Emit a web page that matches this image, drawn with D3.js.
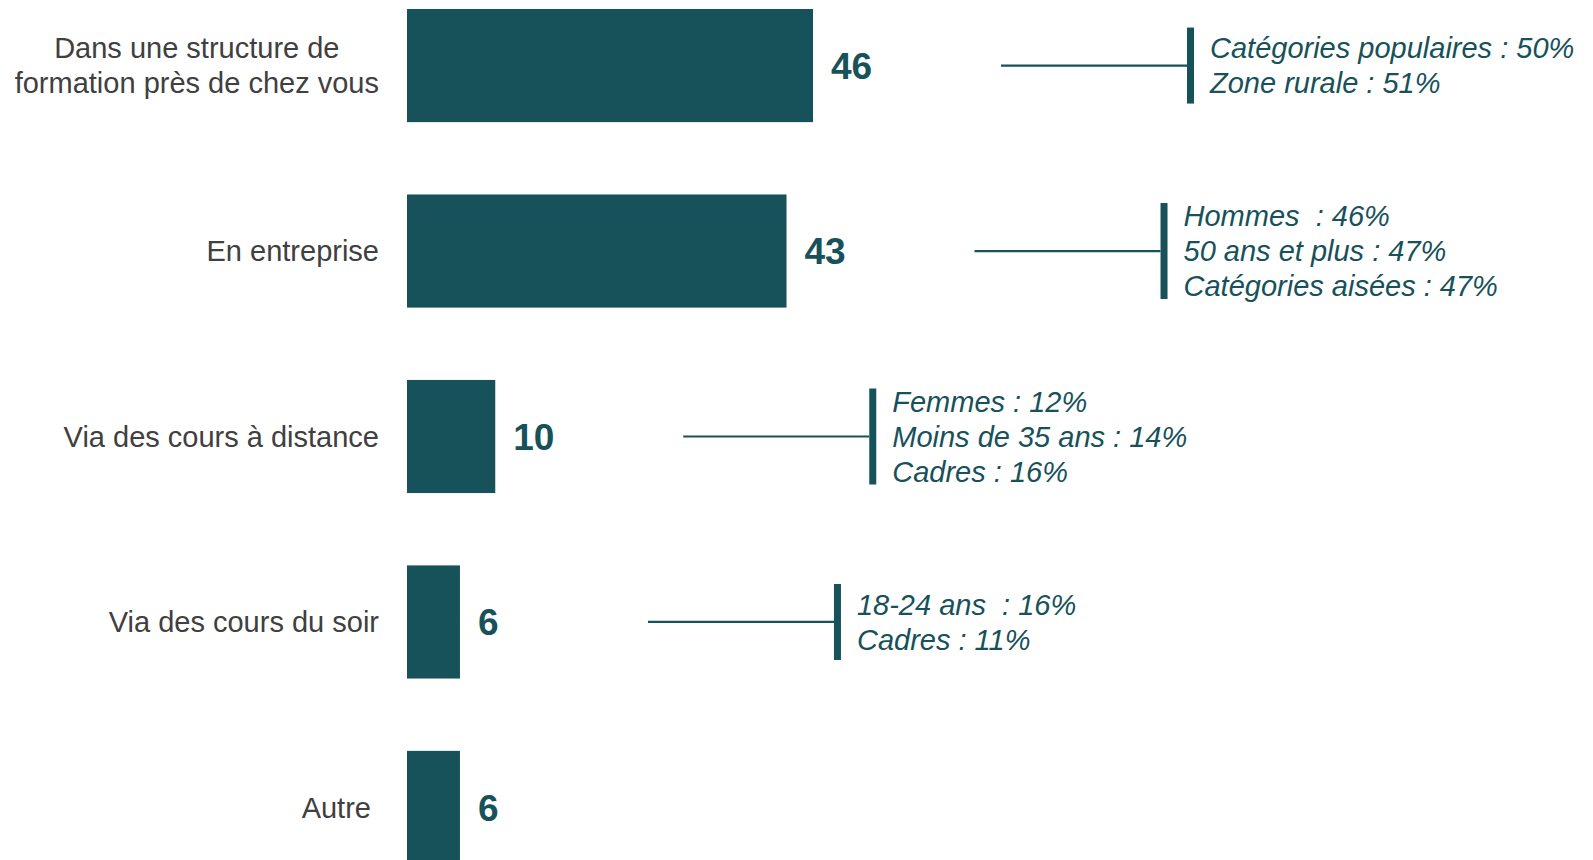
<!DOCTYPE html>
<html>
<head>
<meta charset="utf-8">
<script src="https://cdn.jsdelivr.net/npm/d3@7"></script>
<style>
  html, body { margin: 0; padding: 0; background: #fff; overflow: hidden; }
  svg { display: block; font-family: "Liberation Sans", Arial, sans-serif; }
</style>
</head>
<body>
<div id="chart"></div>
<script>
// Catégories (axe vertical)
const categories = [
    "Dans une structure de\nformation près de chez vous",
    "En entreprise",
    "Via des cours à distance",
    "Via des cours du soir",
    "Autre "
];

// Valeurs (%)
const values = [46, 43, 10, 6, 6];

// Sous-populations mises en avant
const callouts = [
    ["Catégories populaires : 50%", "Zone rurale : 51%"],
    ["Hommes  : 46%", "50 ans et plus : 47%", "Catégories aisées : 47%"],
    ["Femmes : 12%", "Moins de 35 ans : 14%", "Cadres : 16%"],
    ["18-24 ans  : 16%", "Cadres : 11%"],
    []
];

const W = 1593, H = 860;
const TEAL = "#17515a";
const GREY = "#404040";

const svg = d3.select("#chart").append("svg")
    .attr("width", W)
    .attr("height", H);

// Echelles
const x = d3.scaleLinear().domain([0, 46]).range([407, 813]);
const y = d3.scaleBand().domain(categories).range([9, 864]).paddingInner(0.39).paddingOuter(0);

const rows = categories.map((c, i) => ({ cat: c, value: values[i], notes: callouts[i] }));

// Barres
svg.append("g").selectAll("rect")
    .data(rows)
    .enter().append("rect")
    .attr("x", x(0))
    .attr("y", d => y(d.cat))
    .attr("width", d => x(d.value) - x(0))
    .attr("height", y.bandwidth())
    .attr("fill", TEAL);

// Valeurs
svg.append("g").selectAll("text")
    .data(rows)
    .enter().append("text")
    .attr("x", d => x(d.value) + 18)
    .attr("y", d => y(d.cat) + y.bandwidth() / 2)
    .attr("dy", "0.36em")
    .attr("fill", TEAL)
    .attr("font-size", 37)
    .attr("font-weight", "bold")
    .text(d => d.value);

// Libellés des catégories
const lineH = 35;
const labelRight = 379;
const labels = svg.append("g").selectAll("text")
    .data(rows)
    .enter().append("text")
    .attr("fill", GREY)
    .attr("font-size", 29)
    .style("white-space", "pre");

labels.each(function (d) {
    const lines = d.cat.split("\n");
    const cy = y(d.cat) + y.bandwidth() / 2;
    const sel = d3.select(this);
    const spans = lines.map((l, j) => sel.append("tspan")
        .attr("y", cy + (j - (lines.length - 1) / 2) * lineH)
        .attr("dy", "0.35em")
        .text(l));
    if (lines.length > 1) {
        // libellé sur plusieurs lignes : centré dans son bloc
        const wMax = d3.max(spans, s => s.node().getComputedTextLength());
        sel.attr("text-anchor", "middle");
        spans.forEach(s => s.attr("x", labelRight - wMax / 2));
    } else {
        sel.attr("text-anchor", "end");
        spans.forEach(s => s.attr("x", labelRight));
    }
});

// Encadrés de sous-populations
const gap = 188, lineLen = 186;
const notes = svg.append("g").selectAll("g")
    .data(rows.filter(d => d.notes.length))
    .enter().append("g");

notes.each(function (d) {
    const g = d3.select(this);
    const cy = y(d.cat) + y.bandwidth() / 2;
    const x0 = x(d.value) + gap;
    const n = d.notes.length;
    const barH = 20 * n + 36;

    g.append("line")
        .attr("x1", x0).attr("x2", x0 + lineLen)
        .attr("y1", cy).attr("y2", cy)
        .attr("stroke", TEAL)
        .attr("stroke-width", 2.2);

    g.append("rect")
        .attr("x", x0 + lineLen)
        .attr("y", cy - barH / 2)
        .attr("width", 7)
        .attr("height", barH)
        .attr("fill", TEAL);

    const t = g.append("text")
        .attr("fill", TEAL)
        .attr("font-size", 29)
        .attr("font-style", "italic")
        .style("white-space", "pre");

    d.notes.forEach((s, j) => {
        t.append("tspan")
            .attr("x", x0 + lineLen + 23)
            .attr("y", cy + (j - (n - 1) / 2) * lineH)
            .attr("dy", "0.35em")
            .text(s);
    });
});
</script>
</body>
</html>
